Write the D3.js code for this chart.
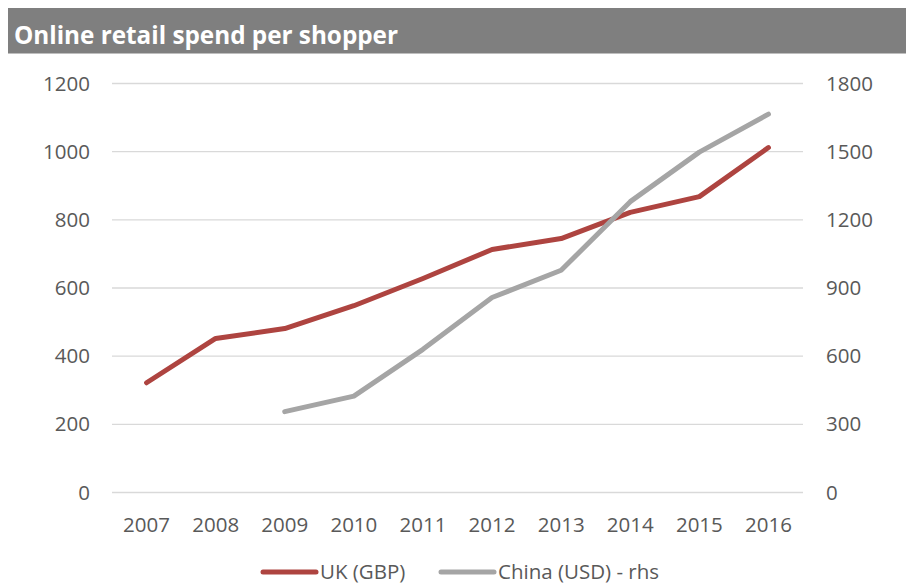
<!DOCTYPE html>
<html>
<head>
<meta charset="utf-8">
<script src="https://cdn.jsdelivr.net/npm/d3@7"></script>
<style>
  html, body { margin: 0; padding: 0; background: #fff; }
  svg { display: block; }
  text { font-family: "Open Sans", "Lato", sans-serif; }
</style>
</head>
<body>
<svg id="chart" width="906" height="585"></svg>
<script>
// Annual online spend per shopper
const years = ["2007", "2008", "2009", "2010", "2011", "2012", "2013", "2014", "2015", "2016"];
const ukGBP = [322, 452, 481, 548, 628, 713, 745, 822, 868, 1012];
const chinaUSD = [null, null, 356, 424, 630, 858, 978, 1280, 1498, 1665];
const leftTicks = [0, 200, 400, 600, 800, 1000, 1200];
const rightTicks = [0, 300, 600, 900, 1200, 1500, 1800];

const title = "Online retail spend per shopper";
const seriesNames = ["UK (GBP)", "China (USD) - rhs"];
const colors = ["#ae4440", "#a5a5a5"];

const svg = d3.select("#chart");
const W = 906, H = 585;
const plot = { left: 112, right: 803, top: 83.5, bottom: 492.5 };

// Title banner
svg.append("rect")
  .attr("x", 8).attr("y", 8).attr("width", W - 8).attr("height", 45.5)
  .attr("fill", "#7f7f7f");
svg.append("text")
  .attr("x", 14).attr("y", 44)
  .attr("fill", "#fff")
  .attr("font-weight", 700)
  .attr("font-size", 24.5)
  .attr("textLength", 384)
  .attr("lengthAdjust", "spacingAndGlyphs")
  .text(title);

const x = d3.scaleBand().domain(years).range([plot.left, plot.right]);
const yL = d3.scaleLinear().domain([0, 1200]).range([plot.bottom, plot.top]);
const yR = d3.scaleLinear().domain([0, 1800]).range([plot.bottom, plot.top]);

// Gridlines
svg.append("g")
  .selectAll("line")
  .data(leftTicks)
  .join("line")
  .attr("x1", plot.left).attr("x2", plot.right)
  .attr("y1", d => yL(d)).attr("y2", d => yL(d))
  .attr("stroke", "#d9d9d9").attr("stroke-width", 1.3);

const tickColor = "#595959";
const fs = 20.5;

// Left axis
const gL = svg.append("g")
  .attr("transform", `translate(${plot.left - 22},0)`)
  .call(d3.axisLeft(yL).tickValues(leftTicks).tickSize(0).tickPadding(0).tickFormat(d3.format("d")));
gL.select(".domain").remove();
gL.selectAll("text").attr("fill", tickColor).attr("font-size", fs).attr("font-family", "Open Sans");

// Right axis
const gR = svg.append("g")
  .attr("transform", `translate(${plot.right + 23},0)`)
  .call(d3.axisRight(yR).tickValues(rightTicks).tickSize(0).tickPadding(0).tickFormat(d3.format("d")));
gR.select(".domain").remove();
gR.selectAll("text").attr("fill", tickColor).attr("font-size", fs).attr("font-family", "Open Sans");

// Bottom axis
const gB = svg.append("g")
  .attr("transform", `translate(0,${plot.bottom + 25})`)
  .call(d3.axisBottom(x).tickSize(0).tickPadding(0));
gB.select(".domain").remove();
gB.selectAll("text").attr("fill", tickColor).attr("font-size", fs).attr("font-family", "Open Sans");

const cx = d => x(d) + x.bandwidth() / 2;

// UK line (left axis)
const lineUK = d3.line()
  .defined(d => d.v != null)
  .x(d => cx(d.year)).y(d => yL(d.v));
svg.append("path")
  .datum(years.map((year, i) => ({ year, v: ukGBP[i] })))
  .attr("d", lineUK)
  .attr("fill", "none").attr("stroke", colors[0])
  .attr("stroke-width", 5).attr("stroke-linecap", "round").attr("stroke-linejoin", "round");

// China line (right axis)
const lineCN = d3.line()
  .defined(d => d.v != null)
  .x(d => cx(d.year)).y(d => yR(d.v));
svg.append("path")
  .datum(years.map((year, i) => ({ year, v: chinaUSD[i] })))
  .attr("d", lineCN)
  .attr("fill", "none").attr("stroke", colors[1])
  .attr("stroke-width", 5).attr("stroke-linecap", "round").attr("stroke-linejoin", "round");

// Legend
const legend = svg.append("g");
const legendItems = [
  { name: seriesNames[0], color: colors[0], x0: 263 },
  { name: seriesNames[1], color: colors[1], x0: 441 }
];
legendItems.forEach(it => {
  legend.append("line")
    .attr("x1", it.x0).attr("x2", it.x0 + 53)
    .attr("y1", 572).attr("y2", 572)
    .attr("stroke", it.color).attr("stroke-width", 5).attr("stroke-linecap", "round");
  legend.append("text")
    .attr("x", it.x0 + 57).attr("y", 578.5)
    .attr("fill", tickColor).attr("font-size", fs)
    .text(it.name);
});
</script>
</body>
</html>
